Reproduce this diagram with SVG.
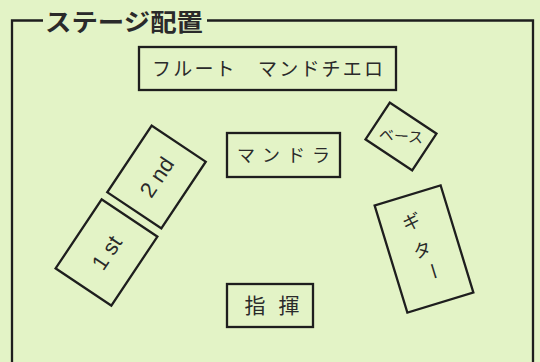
<svg xmlns="http://www.w3.org/2000/svg" width="540" height="362" viewBox="0 0 540 362">
<style>
.box{fill:none;stroke:#1e1e1e;stroke-width:2.3}
.frame{fill:none;stroke:#1e1e1e;stroke-width:2.3}
.lbl{font-family:"Noto Sans CJK JP","Noto Sans",sans-serif;fill:#2a2a2a;text-anchor:middle}
.num{font-family:"Liberation Sans","DejaVu Sans",sans-serif;fill:#2a2a2a;text-anchor:middle}
</style>
<rect width="540" height="362" fill="#e3f3c6"/>
<g id="frame">
<path class="frame" d="M12,362 V20.5 H43 M207,20.5 H533 V362"/>
<text x="124" y="31" class="lbl" style="font-weight:bold;font-size:24px" textLength="158" lengthAdjust="spacingAndGlyphs">ステージ配置</text>
</g>
<g id="flute-mandocello">
<rect class="box" x="139" y="47" width="257" height="43"/>
<text class="lbl" x="267.5" y="76" style="font-size:19px" textLength="231">フルート　マンドチエロ</text>
</g>
<g id="mandola">
<rect class="box" x="227" y="133" width="113" height="44"/>
<text class="lbl" x="283.5" y="162" style="font-size:18px" textLength="93">マンドラ</text>
</g>
<g id="conductor">
<rect class="box" x="227" y="284" width="86" height="43"/>
<text class="lbl" x="272" y="313" style="font-size:21px" textLength="55">指揮</text>
</g>
<g id="bass" transform="translate(401,136.5) rotate(33.5)">
<rect class="box" x="-28" y="-22" width="56" height="44"/>
<text class="lbl" x="0" y="5" transform="rotate(-29)" style="font-size:15px">ベース</text>
</g>
<g id="guitar" transform="translate(424,249) rotate(-17)">
<rect class="box" x="-34.5" y="-56" width="69" height="112"/>
<text class="lbl" x="-4" y="-23" style="font-size:18px">ギ</text>
<text class="lbl" x="-2" y="7" style="font-size:18px">タ</text>
<text class="lbl" x="2" y="24" transform="rotate(90 2 24)" style="font-size:18px" dy="6">ー</text>
</g>
<g id="second" transform="translate(156.5,177) rotate(33.7)">
<rect class="box" x="-32.5" y="-40" width="65" height="80"/>
<text class="num" x="0" y="8" transform="rotate(-90)" style="font-size:22px">2 nd</text>
</g>
<g id="first" transform="translate(106.5,252.5) rotate(33.7)">
<rect class="box" x="-33.5" y="-41.5" width="67" height="83"/>
<text class="num" x="0" y="8" transform="rotate(-90)" style="font-size:22px">1 st</text>
</g>
<g id="connectors"></g>
</svg>
